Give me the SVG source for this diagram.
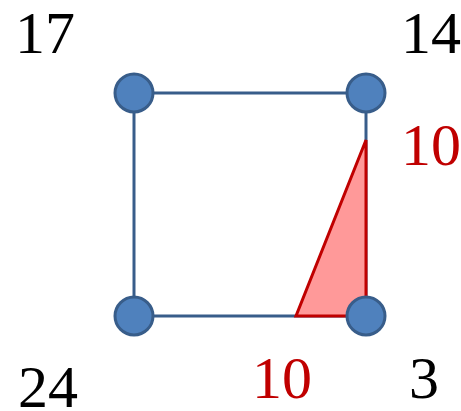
<svg xmlns="http://www.w3.org/2000/svg" width="461" height="411" viewBox="0 0 461 411">
<style>
.node{fill:#4F81BD;stroke:#385D8A;stroke-width:3}
.edge{stroke:#385D8A;stroke-width:3;fill:none}
.lbl{font-family:"Liberation Serif","Times New Roman",serif;font-size:60px;text-anchor:middle;fill:#000}
.red{fill:#C00000}
</style>
<rect width="461" height="411" fill="#fff"/>
<g id="connectors">
<line class="edge" x1="134" y1="93" x2="366" y2="93"/>
<line class="edge" x1="134" y1="93" x2="134" y2="316"/>
<line class="edge" x1="366" y1="93" x2="366" y2="316"/>
<line class="edge" x1="134" y1="316" x2="366" y2="316"/>
</g>
<g id="triangle">
<polygon points="366,140 296,316 366,316" fill="#FF9999" stroke="#C00000" stroke-width="3" stroke-linejoin="miter"/>
</g>
<g id="n17"><circle class="node" cx="134" cy="93" r="19"/></g>
<g id="n14"><circle class="node" cx="366" cy="93" r="19"/></g>
<g id="n24"><circle class="node" cx="134" cy="316" r="19"/></g>
<g id="n3"><circle class="node" cx="366" cy="316" r="19"/></g>
<g id="labels">
<text class="lbl" x="45" y="53">17</text>
<text class="lbl" x="431" y="53">14</text>
<text class="lbl red" x="431" y="165">10</text>
<text class="lbl" x="48" y="407">24</text>
<text class="lbl red" x="282" y="398">10</text>
<text class="lbl" x="424" y="398">3</text>
</g>
</svg>
